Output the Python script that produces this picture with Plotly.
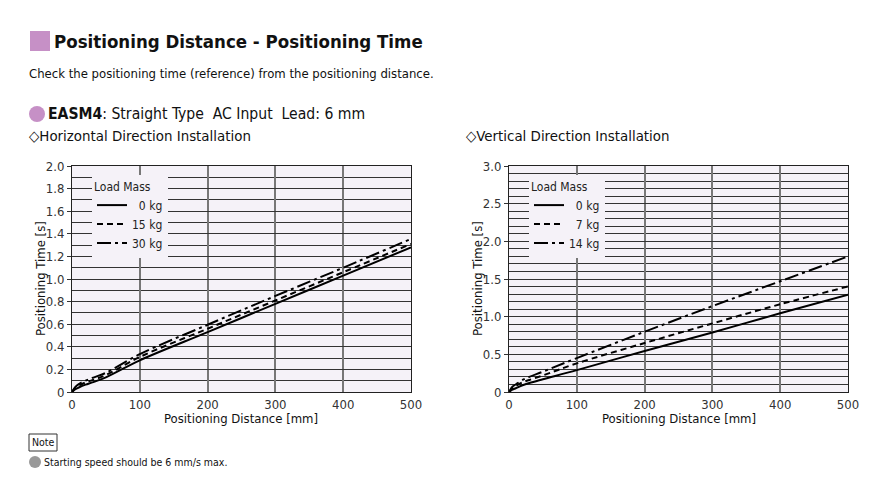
import plotly.graph_objects as go

# ---- data ----
dist = [0, 5, 10, 20, 30, 50, 100, 200, 300, 400, 500]

h_labels = ["0 kg", "15 kg", "30 kg"]
h_0kg = [0, 0.025, 0.04, 0.065, 0.085, 0.13, 0.28, 0.53, 0.78, 1.03, 1.28]
h_15kg = [0, 0.035, 0.055, 0.085, 0.105, 0.15, 0.31, 0.56, 0.81, 1.06, 1.31]
h_30kg = [0, 0.045, 0.07, 0.10, 0.125, 0.17, 0.335, 0.595, 0.85, 1.10, 1.355]

v_labels = ["0 kg", "7 kg", "14 kg"]
v_0kg = [0, 0.03, 0.05, 0.09, 0.12, 0.17, 0.29, 0.545, 0.79, 1.045, 1.29]
v_7kg = [0, 0.05, 0.08, 0.13, 0.16, 0.22, 0.38, 0.65, 0.91, 1.165, 1.40]
v_14kg = [0, 0.07, 0.10, 0.16, 0.20, 0.27, 0.45, 0.80, 1.14, 1.47, 1.80]

x_tickvals = [0, 100, 200, 300, 400, 500]
x_ticktext = ["0", "100", "200", "300", "400", "500"]
h_tickvals = [0, 0.2, 0.4, 0.6, 0.8, 1.0, 1.2, 1.4, 1.6, 1.8, 2.0]
h_ticktext = ["0", "0.2", "0.4", "0.6", "0.8", "1.0", "1.2", "1.4", "1.6", "1.8", "2.0"]
v_tickvals = [0, 0.5, 1.0, 1.5, 2.0, 2.5, 3.0]
v_ticktext = ["0", "0.5", "1.0", "1.5", "2.0", "2.5", "3.0"]

# ---- styling ----
W, H = 888, 498
FONT = "DejaVu Sans Condensed, Liberation Sans Narrow, Arial Narrow, sans-serif"
PINK = "#c690c6"
BG = "#f5f2f8"
dashes = ["solid", "6px,4px", "14px,4px,3px,4px"]

def px(x):
    return x / W

def py(y):
    return 1 - y / H

fig = go.Figure()

nb = "\u00a0"
def padded(lab):
    return nb * (2 if len(lab) == 4 else 0) + lab

for lab, ys, d in zip(h_labels, [h_0kg, h_15kg, h_30kg], dashes):
    fig.add_trace(go.Scatter(x=dist, y=ys, mode="lines", name=padded(lab),
                             line=dict(color="black", width=2, dash=d, shape="spline"),
                             xaxis="x", yaxis="y", legend="legend"))
for lab, ys, d in zip(v_labels, [v_0kg, v_7kg, v_14kg], dashes):
    fig.add_trace(go.Scatter(x=dist, y=ys, mode="lines", name=padded(lab),
                             line=dict(color="black", width=2, dash=d, shape="spline"),
                             xaxis="x2", yaxis="y2", legend="legend2"))

xcommon = dict(range=[0, 500], tickvals=x_tickvals, ticktext=x_ticktext,
               showgrid=True, gridcolor="#777777", gridwidth=2,
               showline=True, linecolor="#222222", linewidth=1, mirror=True,
               ticks="", zeroline=False, automargin=False,
               tickfont=dict(family=FONT, size=13, color="#333333"))
ycommon = dict(showgrid=True, gridcolor="#333333", gridwidth=1,
               showline=True, linecolor="#222222", linewidth=1, mirror=True,
               ticks="outside", ticklen=4, tickcolor="#333333", zeroline=False,
               automargin=False,
               tickfont=dict(family=FONT, size=13, color="#333333"),
               minor=dict(dtick=0.1, showgrid=True, gridcolor="#333333", gridwidth=1, ticks=""))

dom_y = [py(392), py(166)]
leg_common = dict(xanchor="left", yanchor="top", bgcolor=BG, borderwidth=0,
                  itemwidth=30, tracegroupgap=0,
                  title=dict(text="Load Mass", font=dict(size=12, family=FONT, color="#222222")),
                  font=dict(size=12, family=FONT, color="#222222"))
fig.update_layout(
    width=W, height=H, margin=dict(l=0, r=0, t=0, b=0, autoexpand=False), autosize=False,
    paper_bgcolor="white", plot_bgcolor=BG,
    font=dict(family=FONT, color="#222222"),
    xaxis=dict(domain=[px(72), px(411)], anchor="y", **xcommon),
    yaxis=dict(domain=dom_y, anchor="x", range=[0, 2.0], tickvals=h_tickvals,
               ticktext=h_ticktext, **ycommon),
    xaxis2=dict(domain=[px(509), px(848)], anchor="y2", **xcommon),
    yaxis2=dict(domain=dom_y, anchor="x2", range=[0, 3.0], tickvals=v_tickvals,
                ticktext=v_ticktext, **ycommon),
    legend=dict(x=px(92), y=py(175), **leg_common),
    legend2=dict(x=px(529), y=py(175), **leg_common),
    showlegend=True,
)

ann = []
def text(x, y, s, size, xanchor="left", yanchor="middle", angle=0, color="#111111"):
    ann.append(dict(x=px(x), y=py(y), xref="paper", yref="paper", text=s, showarrow=False,
                    xanchor=xanchor, yanchor=yanchor, textangle=angle,
                    font=dict(family=FONT, size=size, color=color)))

text(52, 41, "<b>Positioning Distance - Positioning Time</b>", 18.5)
text(27, 73, "Check the positioning time (reference) from the positioning distance.", 13)
text(46, 114, "<b>EASM4</b>: Straight Type" + nb * 2 + "AC Input" + nb * 2 + "Lead: 6 mm", 15.6)
text(27, 136, "\u25C7Horizontal Direction Installation", 14.9)
text(464, 136, "\u25C7Vertical Direction Installation", 14.9)
text(40, 279, "Positioning Time [s]", 13, xanchor="center", angle=-90)
text(477, 279, "Positioning Time [s]", 13, xanchor="center", angle=-90)
text(241, 418, "Positioning Distance [mm]", 13, xanchor="center")
text(679, 418, "Positioning Distance [mm]", 13, xanchor="center")
text(43, 442, "Note", 10.5, xanchor="center")
text(42, 462, "Starting speed should be 6 mm/s max.", 10.5)
fig.update_layout(annotations=ann)

shapes = [
    dict(type="rect", xref="paper", yref="paper", x0=px(30), x1=px(50), y0=py(51), y1=py(31),
         fillcolor=PINK, line=dict(width=0)),
    dict(type="circle", xref="paper", yref="paper", x0=px(29), x1=px(45), y0=py(122), y1=py(106),
         fillcolor=PINK, line=dict(width=0)),
    dict(type="rect", xref="paper", yref="paper", x0=px(29), x1=px(57), y0=py(451), y1=py(434),
         fillcolor="white", line=dict(width=1, color="#333333")),
    dict(type="circle", xref="paper", yref="paper", x0=px(29), x1=px(41), y0=py(468), y1=py(456),
         fillcolor="#999999", line=dict(width=0)),
]
fig.update_layout(shapes=shapes)

fig.write_html("out.html")
